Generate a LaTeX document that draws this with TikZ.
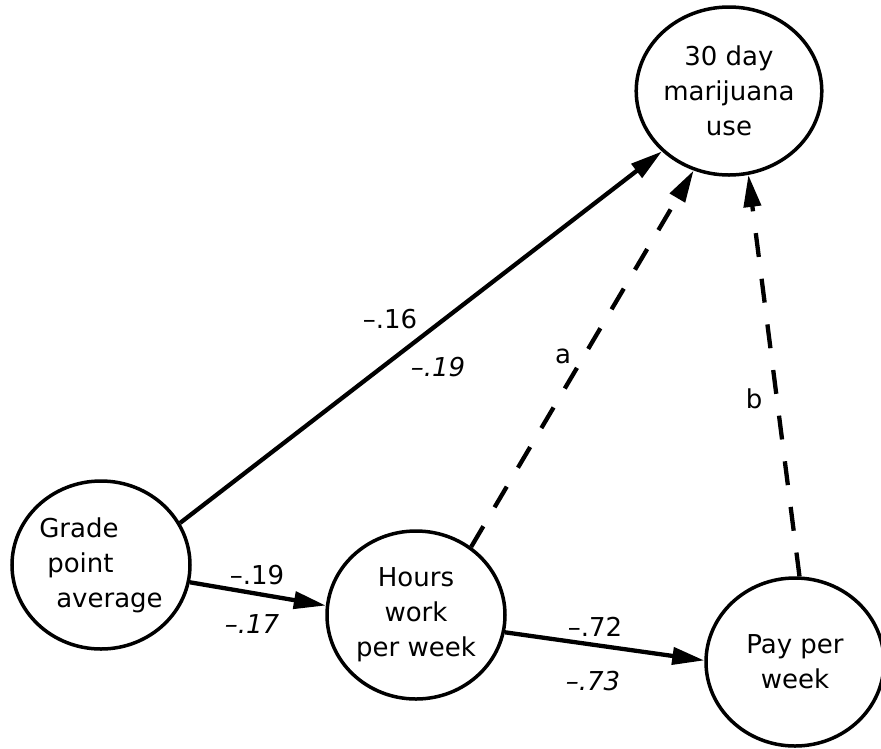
\documentclass[tikz,border=0pt]{standalone}
\usepackage{fontspec}
\setmainfont{DejaVu Sans}
\usetikzlibrary{arrows.meta,shapes.geometric}

\begin{document}
\begin{tikzpicture}[x=1pt,y=-1pt,>={Triangle[length=32pt,width=17pt]},
    every node/.style={font=\fontsize{26}{35}\selectfont},
    var/.style={draw,ellipse,line width=3.5pt,minimum width=178pt,minimum height=168pt,inner sep=0pt,align=center},
    effect/.style={->,line width=4.3pt},
    mediated/.style={effect,dash pattern=on 24pt off 22pt},
    coef/.style={inner sep=0pt},
    coefalt/.style={coef,font=\fontsize{26}{35}\selectfont\itshape}]
    \useasboundingbox (0,0) rectangle (881,748);

    % Variables
    \node[var] (mj) at (729,91) {30 day\\marijuana\\use};
    \node[var,align=left] (gpa) at (101,565) {Grade\\\hspace*{8pt}point\\\hspace*{17pt}average};
    \node[var] (hours) at (416,615) {Hours\\work\\per week};
    \node[var] (pay) at (795,662) {Pay per\\week};

    % Paths
    \draw[effect] (gpa.28) -- (mj.222);
    \draw[effect] (gpa.-11) -- (hours.174);
    \draw[effect] (hours.-11) -- (pay.179);
    \draw[mediated] (hours.51) -- (mj.246);
    \draw[mediated] (pay.87) -- (mj.283);

    % Coefficients
    \node[coef] (c16) at (390,319) {--.16};
    \node[coefalt] (c19a) at (438,367) {--.19};
    \node[coef] (c19) at (257,575) {--.19};
    \node[coefalt] (c17) at (252,624) {--.17};
    \node[coef] (c72) at (595,627) {--.72};
    \node[coefalt] (c73) at (593,681) {--.73};
    \node[coef] (la) at (563,356) {a};
    \node[coef] (lb) at (754,399) {b};
\end{tikzpicture}
\end{document}
